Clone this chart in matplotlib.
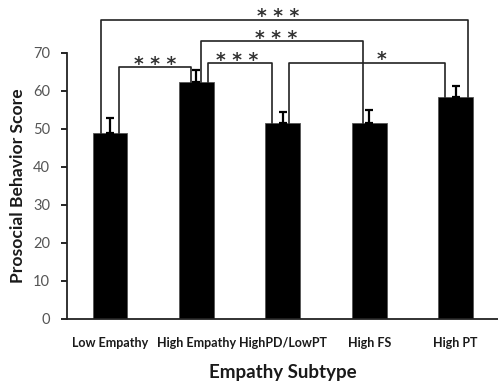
import matplotlib
matplotlib.use("Agg")
import matplotlib.pyplot as plt
import numpy as np

categories = ["Low Empathy", "High Empathy", "HighPD/LowPT", "High FS", "High PT"]
means = [48.9, 62.4, 51.7, 51.7, 58.4]
errors = [3.9, 3.1, 2.8, 3.4, 2.8]

# significance brackets: (left bar, right bar, level, label)
bracket_pairs = [(0, 1), (0, 4), (1, 3), (1, 2), (2, 4)]
bracket_levels = [66.3, 78.8, 73.2, 67.4, 67.5]
bracket_labels = ["* * *", "* * *", "* * *", "* * *", "*"]

# style: leg offsets from bar centres, text shifts
leg_offsets = [(0.10, -0.06), (-0.10, 0.14), (0.05, -0.075), (0.13, -0.12), (0.07, -0.12)]
text_shift = [0.0, -0.07, -0.06, -0.03, 0.17]

fig = plt.figure(figsize=(4.98, 3.82), dpi=100)
ax = fig.add_axes([66.7/498, 1-319/382, 1-66.7/498, (319-53)/382])

x = np.arange(len(categories))
ax.bar(x, means, width=0.40, color="black", edgecolor="#555555", linewidth=0.6, zorder=2)
ax.errorbar(x, means, yerr=[np.zeros(len(errors)), errors], fmt="none",
            ecolor="black", elinewidth=1.6, capsize=3, capthick=1.6, zorder=3)

ax.set_xlim(-0.5, 4.49)
ax.set_ylim(0, 70)
ax.set_yticks(range(0, 71, 10))
ax.set_xticks(x)
ax.set_xticklabels(categories, fontsize=9, fontweight="bold", fontfamily="Lato", color="#1a1a1a")
ax.tick_params(axis="x", length=0, pad=13)
ax.tick_params(axis="y", direction="out", length=4, width=1.2, labelsize=10.5, labelcolor="#555555", pad=8)
for lab in ax.get_yticklabels():
    lab.set_fontfamily("Lato")
for s in ["top", "right"]:
    ax.spines[s].set_visible(False)
ax.spines["left"].set_linewidth(1.3)
ax.spines["bottom"].set_linewidth(1.3)
ax.spines["left"].set_color("#222222")
ax.spines["bottom"].set_color("#222222")

ax.set_ylabel("Prosocial Behavior Score", fontsize=12.6, fontweight="bold", fontfamily="Lato", color="#1a1a1a", labelpad=5)
ax.set_xlabel("Empathy Subtype", fontsize=13.5, fontweight="bold", fontfamily="Lato", color="#1a1a1a", labelpad=11)

for (i, j), lvl, lab, (oi, oj), ts in zip(bracket_pairs, bracket_levels, bracket_labels, leg_offsets, text_shift):
    xl = x[i] + oi
    xr = x[j] + oj
    ax.plot([xl, xl, xr, xr], [means[i], lvl, lvl, means[j]], color="#222222", lw=1.2,
            clip_on=False, zorder=4)
    ax.text((xl + xr) / 2 + ts, lvl - 0.7, lab, ha="center", va="baseline", fontsize=13.5,
            fontweight="bold", fontfamily="DejaVu Sans", color="#333333", clip_on=False)

fig.savefig("out.png", dpi=100)
